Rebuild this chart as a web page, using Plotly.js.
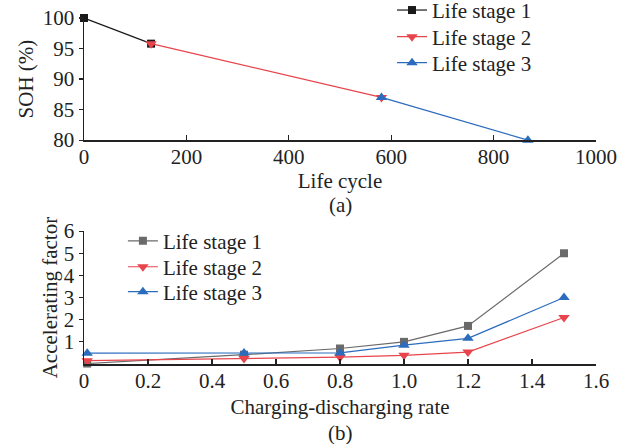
<!DOCTYPE html>
<html><head><meta charset="utf-8">
<script src="https://cdn.plot.ly/plotly-3.0.1.min.js"></script>
<style>html,body{margin:0;padding:0;background:#fff}#chart{width:637px;height:444px}</style>
</head><body><div id="chart"></div>
<script>
// Panel (a): SOH vs life cycle
const stage1Cycle = [0, 131];
const stage1SOH = [100, 95.8];
const stage2Cycle = [131, 581];
const stage2SOH = [95.8, 87.0];
const stage3Cycle = [581, 867];
const stage3SOH = [87.0, 80.0];

// Panel (b): accelerating factor vs charging-discharging rate
const rate = [0.01, 0.5, 0.8, 1.0, 1.2, 1.5];
const accel1 = [0.02, 0.42, 0.7, 1.0, 1.72, 5.0];
const accel2 = [0.15, 0.25, 0.31, 0.39, 0.54, 2.1];
const accel3 = [0.49, 0.5, 0.5, 0.85, 1.16, 3.0];

const seriesNames = ['Life stage 1', 'Life stage 2', 'Life stage 3'];
const xTicksB = [0, 0.2, 0.4, 0.6, 0.8, 1.0, 1.2, 1.4, 1.6];
const xTickTextB = ['0', '0.2', '0.4', '0.6', '0.8', '1.0', '1.2', '1.4', '1.6'];
const yTicksB = [1, 2, 3, 4, 5, 6];

const FONT = 'Liberation Serif, Times New Roman, serif';
const FS = 21;
const RED = '#e8444c', BLUE = '#2b6cbd', BLACK = '#1a1a1a', GRAY = '#6a6a6a';

function tr(x, y, name, color, symbol, size, xa, ya, lg) {
  return {x: x, y: y, name: name, type: 'scatter', mode: 'lines+markers',
    line: {color: color, width: 1.2}, marker: {symbol: symbol, size: size, color: color},
    cliponaxis: false, xaxis: xa, yaxis: ya, legend: lg};
}

const traces = [
  tr(stage1Cycle, stage1SOH, seriesNames[0], BLACK, 'square', 8, 'x', 'y', 'legend'),
  tr(stage2Cycle, stage2SOH, seriesNames[1], RED, 'triangle-down', 10, 'x', 'y', 'legend2'),
  tr(stage3Cycle, stage3SOH, seriesNames[2], BLUE, 'triangle-up', 10, 'x', 'y', 'legend3'),
  tr(rate, accel1, seriesNames[0], GRAY, 'square', 8, 'x2', 'y2', 'legend4'),
  tr(rate, accel2, seriesNames[1], RED, 'triangle-down', 10, 'x2', 'y2', 'legend5'),
  tr(rate, accel3, seriesNames[2], BLUE, 'triangle-up', 10, 'x2', 'y2', 'legend6')
];

const axisCommon = {showgrid: false, zeroline: false, showline: true, linecolor: '#222', linewidth: 1.5,
  tickcolor: '#222', tickwidth: 1.2, ticklen: 5, automargin: false,
  tickfont: {family: FONT, size: FS, color: '#222'}};

function lg(x, y) {
  return {x: x, y: y, xanchor: 'left', yanchor: 'middle', bgcolor: 'rgba(0,0,0,0)',
    font: {family: FONT, size: FS, color: '#222'}, itemwidth: 30};
}

const layout = {
  width: 637, height: 444,
  margin: {l: 84, r: 41, t: 18, b: 80, autoexpand: false},
  paper_bgcolor: '#fff', plot_bgcolor: '#fff',
  font: {family: FONT, color: '#222'},
  showlegend: true,
  xaxis: Object.assign({}, axisCommon, {domain: [0, 1], anchor: 'y', range: [0, 1000], dtick: 200, ticks: 'inside', ticklabelstandoff: -3,
    title: {text: 'Life cycle', font: {family: FONT, size: FS}, standoff: 0}}),
  yaxis: Object.assign({}, axisCommon, {domain: [0.647, 1], anchor: 'x', range: [80, 100], dtick: 5, ticks: 'outside', ticklen: 4,
    title: {text: 'SOH (%)', font: {family: FONT, size: FS}, standoff: 3}}),
  xaxis2: Object.assign({}, axisCommon, {domain: [0, 1], anchor: 'y2', range: [0, 1.6], tickvals: xTicksB, ticktext: xTickTextB, ticks: 'inside', ticklabelstandoff: -3,
    title: {text: 'Charging-discharging rate', font: {family: FONT, size: FS}, standoff: 7}}),
  yaxis2: Object.assign({}, axisCommon, {domain: [0, 0.384], anchor: 'x2', range: [0, 6], tickvals: yTicksB, ticks: 'outside', ticklen: 4,
    title: {text: 'Accelerating factor', font: {family: FONT, size: FS}, standoff: 0}}),
  legend: lg(0.6016, 1.022),
  legend2: lg(0.6016, 0.945),
  legend3: lg(0.6016, 0.870),
  legend4: lg(0.076, 0.355),
  legend5: lg(0.076, 0.280),
  legend6: lg(0.076, 0.208),
  annotations: [
    {text: '(a)', xref: 'paper', yref: 'paper', x: 0.5, y: 0.4595, yanchor: 'middle', showarrow: false, font: {family: FONT, size: FS}},
    {text: '(b)', xref: 'paper', yref: 'paper', x: 0.5, y: -0.199, yanchor: 'middle', showarrow: false, font: {family: FONT, size: FS}}
  ]
};

Plotly.newPlot('chart', traces, layout, {displayModeBar: false, staticPlot: true});
</script></body></html>
